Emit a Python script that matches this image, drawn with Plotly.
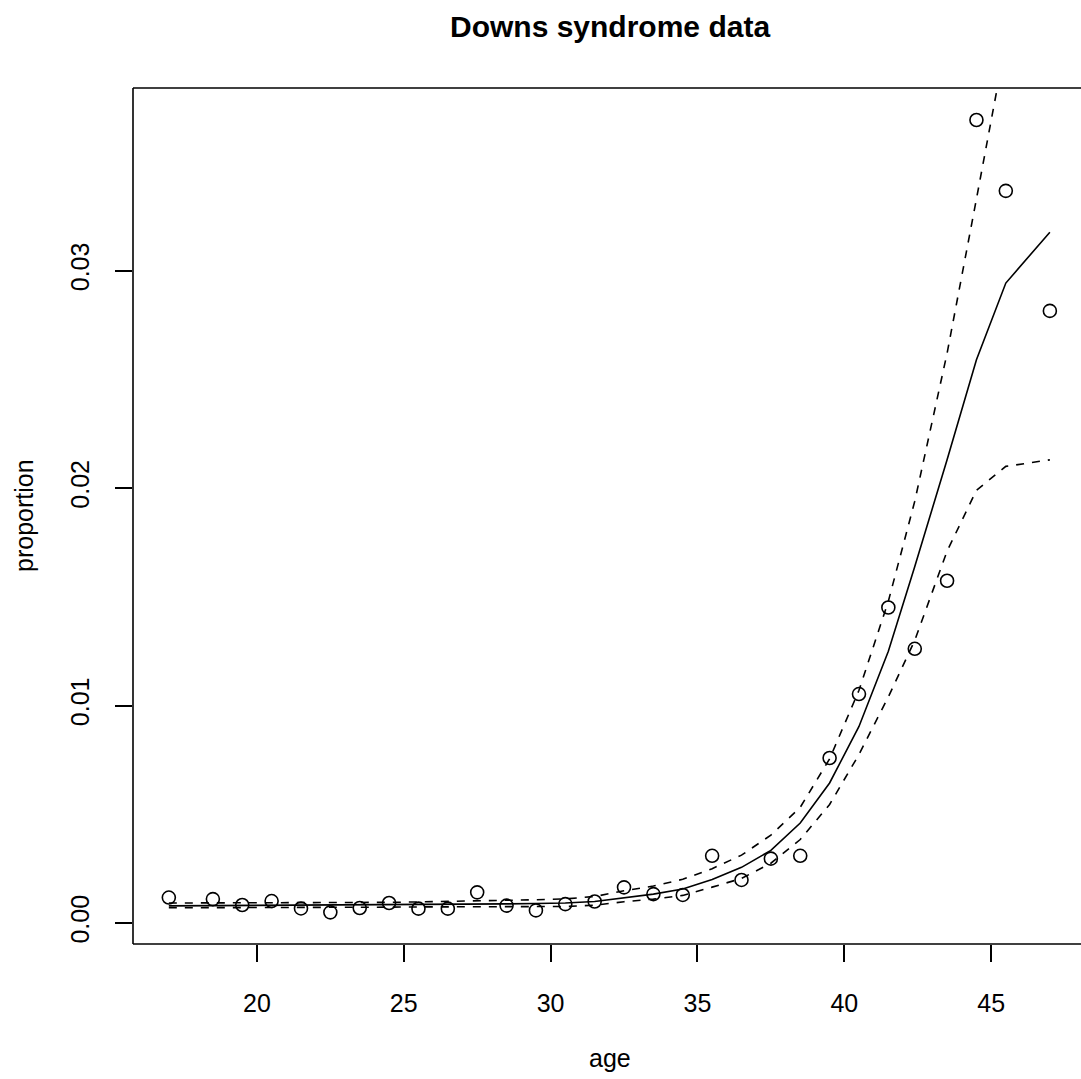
import plotly.graph_objects as go

age = [17, 18.5, 19.5, 20.5, 21.5, 22.5, 23.5, 24.5, 25.5, 26.5, 27.5, 28.5, 29.5, 30.5,
       31.5, 32.5, 33.5, 34.5, 35.5, 36.5, 37.5, 38.5, 39.5, 40.5, 41.5, 42.4, 43.5, 44.5,
       45.5, 47]
proportion = [0.00117, 0.00110, 0.00083, 0.00101, 0.00067, 0.00049, 0.00069, 0.00092,
              0.00066, 0.00066, 0.00141, 0.00080, 0.00058, 0.00087, 0.00099, 0.00164,
              0.00133, 0.00129, 0.00309, 0.00198, 0.00296, 0.00309, 0.00759, 0.01053,
              0.01451, 0.01261, 0.01574, 0.03693, 0.03367, 0.02815]
fitted = [0.00079, 0.00080, 0.00080, 0.00081, 0.00081, 0.00082, 0.00083, 0.00084,
          0.00085, 0.00086, 0.00087, 0.00088, 0.00090, 0.00092, 0.00099, 0.00115,
          0.00133, 0.00156, 0.00200, 0.00256, 0.00334, 0.00460, 0.00644, 0.00904,
          0.01250, 0.01640, 0.02130, 0.02590, 0.02943, 0.03177]
upper = [0.00092, 0.00092, 0.00092, 0.00093, 0.00093, 0.00093, 0.00094, 0.00095,
         0.00097, 0.00099, 0.00102, 0.00104, 0.00107, 0.00111, 0.00122, 0.00148,
         0.00170, 0.00201, 0.00250, 0.00312, 0.00404, 0.00532, 0.00755, 0.01070,
         0.01480, 0.01940, 0.02620, 0.03330, 0.04050, 0.04700]
lower = [0.00070, 0.00070, 0.00070, 0.00071, 0.00071, 0.00071, 0.00072, 0.00073,
         0.00074, 0.00075, 0.00076, 0.00075, 0.00075, 0.00076, 0.00082, 0.00098,
         0.00110, 0.00127, 0.00165, 0.00205, 0.00275, 0.00384, 0.00545, 0.00775,
         0.01040, 0.01300, 0.01710, 0.01990, 0.02100, 0.02130]

xticks = [20, 25, 30, 35, 40, 45]
yticks = [0.0, 0.01, 0.02, 0.03]
yticktext = ["0.00", "0.01", "0.02", "0.03"]

FONT = "Liberation Sans, Arial, Helvetica, sans-serif"

fig = go.Figure()
fig.add_trace(go.Scatter(x=age, y=proportion, mode="markers",
                         marker=dict(symbol="circle-open", size=13, color="black",
                                     line=dict(width=1.6, color="black")),
                         showlegend=False))
fig.add_trace(go.Scatter(x=age, y=fitted, mode="lines",
                         line=dict(color="black", width=1.6), showlegend=False))
for band in (upper, lower):
    fig.add_trace(go.Scatter(x=age, y=band, mode="lines",
                             line=dict(color="black", width=1.6, dash="8px,8px"),
                             showlegend=False))

fig.update_layout(
    width=1081, height=1079,
    margin=dict(l=133, r=0, t=88, b=135),
    paper_bgcolor="white", plot_bgcolor="white",
    font=dict(family=FONT, size=25, color="black"),
    xaxis=dict(range=[15.78, 48.06], tickvals=xticks, ticks="outside", ticklen=17,
               tickwidth=1.5, tickcolor="black", showgrid=False, zeroline=False,
               showline=False, ticklabelstandoff=20,
               tickfont=dict(family=FONT, size=25, color="black")),
    yaxis=dict(range=[-0.000965, 0.0384], tickvals=yticks, ticktext=yticktext,
               ticks="outside", ticklen=17, tickwidth=1.5, tickcolor="black",
               showgrid=False, zeroline=False, showline=False, tickangle=-90,
               ticklabelstandoff=16,
               tickfont=dict(family=FONT, size=25, color="black")),
    shapes=[
        dict(type="line", xref="paper", yref="paper", x0=0, x1=1.02, y0=0, y1=0,
             line=dict(color="black", width=1.6)),
        dict(type="line", xref="paper", yref="paper", x0=0, x1=1.02, y0=1, y1=1,
             line=dict(color="black", width=1.6)),
        dict(type="line", xref="paper", yref="paper", x0=0, x1=0, y0=0, y1=1,
             line=dict(color="black", width=1.6)),
    ],
    annotations=[
        dict(text="<b>Downs syndrome data</b>", xref="paper", yref="paper",
             x=(609.5 - 133) / 948, y=1, yshift=88 - 26, xanchor="center",
             yanchor="middle", showarrow=False,
             font=dict(family=FONT, size=30, color="black")),
        dict(text="age", xref="paper", yref="paper", x=(609.5 - 133) / 948, y=0,
             yshift=-(1058 - 944), xanchor="center", yanchor="middle",
             showarrow=False, font=dict(family=FONT, size=25, color="black")),
        dict(text="proportion", xref="paper", yref="paper", x=0, y=0.5,
             xshift=-(133 - 24), xanchor="center", yanchor="middle", textangle=-90,
             showarrow=False, font=dict(family=FONT, size=25, color="black")),
    ],
)

fig.write_html("out.html")
